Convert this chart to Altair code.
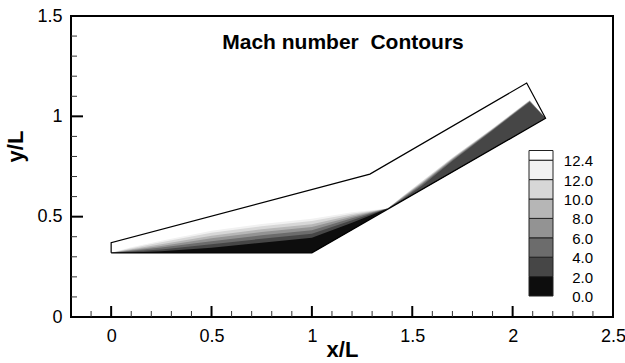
import altair as alt
import pandas as pd

FONT = "Liberation Sans"

# ---------------- data ----------------
title_text = "Mach number\u00a0 Contours"

# computational-domain outline (x/L, y/L)
outline_x = [0.0, 0.0, 1.289, 2.07, 2.164, 1.0, 0.0]
outline_y = [0.32, 0.37, 0.712, 1.166, 0.990, 0.32, 0.32]

# contour levels and flood greys (band k lies between levels[k] and levels[k+1])
levels = [0.0, 2.0, 4.0, 6.0, 8.0, 10.0, 12.0, 12.4]
level_labels = ["0.0", "2.0", "4.0", "6.0", "8.0", "10.0", "12.0", "12.4"]
band_grays = ["#0d0d0d", "#464646", "#6c6c6c", "#939393", "#b6b6b6", "#d7d7d7", "#f1f1f1", "#ffffff"]

# flat-plate part: stations and iso-Mach boundary curves
flat_x = [0.0, 0.1, 0.25, 0.5, 0.75, 1.0, 1.2, 1.378]
flat_wall = [0.32, 0.32, 0.32, 0.32, 0.32, 0.32, 0.435, 0.541]
flat_iso = {
    2.0:  [0.32, 0.322, 0.328, 0.345, 0.370, 0.395, 0.470, 0.541],
    4.0:  [0.32, 0.326, 0.337, 0.362, 0.390, 0.415, 0.482, 0.541],
    6.0:  [0.32, 0.330, 0.346, 0.378, 0.407, 0.432, 0.492, 0.541],
    8.0:  [0.32, 0.334, 0.354, 0.392, 0.423, 0.448, 0.500, 0.541],
    10.0: [0.32, 0.338, 0.362, 0.405, 0.437, 0.462, 0.507, 0.541],
    12.0: [0.32, 0.343, 0.372, 0.420, 0.452, 0.478, 0.515, 0.541],
    12.4: [0.32, 0.347, 0.380, 0.430, 0.463, 0.490, 0.522, 0.541],
}

# ramp part: stations and iso-Mach boundary curves
ramp_x = [1.378, 1.45, 1.55, 1.7, 1.9, 2.085, 2.164]
ramp_wall = [0.541, 0.579, 0.637, 0.723, 0.838, 0.945, 0.990]
ramp_iso = {
    2.0:  [0.541, 0.580, 0.638, 0.724, 0.839, 0.946, 0.990],
    4.0:  [0.541, 0.585, 0.655, 0.778, 0.930, 1.072, 0.990],
    6.0:  [0.541, 0.590, 0.663, 0.783, 0.933, 1.075, 0.990],
    8.0:  [0.541, 0.594, 0.668, 0.787, 0.935, 1.077, 0.990],
    10.0: [0.541, 0.597, 0.672, 0.790, 0.937, 1.078, 0.990],
    12.0: [0.541, 0.599, 0.676, 0.793, 0.939, 1.080, 0.990],
    12.4: [0.541, 0.600, 0.679, 0.795, 0.940, 1.081, 0.990],
}

x_major = [0, 0.5, 1, 1.5, 2, 2.5]
x_minor = [-0.1, 0.1, 0.2, 0.3, 0.4, 0.6, 0.7, 0.8, 0.9, 1.1, 1.2, 1.3, 1.4,
           1.6, 1.7, 1.8, 1.9, 2.1, 2.2, 2.3, 2.4]
y_major = [0, 0.5, 1, 1.5]
y_minor = [0.1, 0.2, 0.3, 0.4, 0.6, 0.7, 0.8, 0.9, 1.1, 1.2, 1.3, 1.4]

# ---------------- tables ----------------
rows = []
for region, xs, wall, iso in (("flat", flat_x, flat_wall, flat_iso),
                              ("ramp", ramp_x, ramp_wall, ramp_iso)):
    for k, lev in enumerate(levels[1:]):
        for xv, w, t in zip(xs, wall, iso[lev]):
            rows.append({"region": region, "band": k, "x": xv, "wall": w, "top": t})
bands = pd.DataFrame(rows)

outline = pd.DataFrame({"x": outline_x, "y": outline_y, "i": range(len(outline_x))})
xmaj = pd.DataFrame({"v": x_major[:-1]})
xmin = pd.DataFrame({"v": x_minor})
ymaj = pd.DataFrame({"v": y_major[1:-1]})
ymin = pd.DataFrame({"v": y_minor})

cb = pd.DataFrame({
    "lo": list(range(len(levels))),
    "hi": [i + 1 for i in range(len(levels) - 1)] + [len(levels) - 0.5],
    "gray": band_grays,
})
cb_lab = pd.DataFrame({"pos": list(range(len(levels))), "label": level_labels})
ttl = pd.DataFrame({"t": [title_text]})

# ---------------- scales / axes ----------------
XS = alt.Scale(domain=[-0.2, 2.5], nice=False, zero=False)
YS = alt.Scale(domain=[0, 1.5], nice=False, zero=False)
XA = alt.Axis(values=x_major, labelExpr="'' + datum.value", ticks=False, domain=False,
              grid=False, labelFont=FONT, labelFontSize=18, labelColor="black",
              labelPadding=10, labelFlush=False, title="x/L", titleFont=FONT,
              titleFontSize=22, titleFontWeight="bold", titleColor="black",
              titleY=32, titleBaseline="middle")
YA = alt.Axis(values=y_major, labelExpr="'' + datum.value", ticks=False, domain=False,
              grid=False, labelFont=FONT, labelFontSize=18, labelColor="black",
              labelPadding=9, labelFlush=False, title="y/L", titleFont=FONT,
              titleFontSize=22, titleFontWeight="bold", titleColor="black",
              titleX=-56, titleY=130, titleAlign="center", titleBaseline="middle")

def X(f):
    return alt.X(f, type="quantitative", scale=XS, axis=XA, title="x/L")

def Y(f):
    return alt.Y(f, type="quantitative", scale=YS, axis=YA, title="y/L")

layers = []
# lightest band first, darker ones painted over it (wall -> level curve)
for k in range(len(levels) - 2, -1, -1):
    layers.append(
        alt.Chart(bands).transform_filter(alt.datum.band == k)
        .mark_area(color=band_grays[k], interpolate="linear", strokeWidth=0)
        .encode(x=X("x"), y=Y("wall"), y2="top", detail="region:N")
    )

layers.append(
    alt.Chart(outline).mark_line(color="black", strokeWidth=1.2)
    .encode(x=X("x"), y=Y("y"), order="i:Q")
)
layers.append(alt.Chart(xmaj).mark_rule(color="black", strokeWidth=2)
              .encode(x=X("v"), y=alt.value(301), y2=alt.value(290)))
layers.append(alt.Chart(xmin).mark_rule(color="#333333", strokeWidth=1)
              .encode(x=X("v"), y=alt.value(301), y2=alt.value(295)))
layers.append(alt.Chart(ymaj).mark_rule(color="black", strokeWidth=2)
              .encode(y=Y("v"), x=alt.value(0), x2=alt.value(12)))
layers.append(alt.Chart(ymin).mark_rule(color="#333333", strokeWidth=1)
              .encode(y=Y("v"), x=alt.value(0), x2=alt.value(6)))

main = alt.layer(*layers)

CBS = alt.Scale(domain=[0, 8], range=[280, 124.8], nice=False, zero=False)
cbar = alt.Chart(cb).mark_rect(stroke="#222222", strokeWidth=1).encode(
    x=alt.value(458), x2=alt.value(482),
    y=alt.Y("lo:Q", scale=CBS, axis=None), y2="hi:Q",
    fill=alt.Fill("gray:N", scale=None),
)
cbtext = alt.Chart(cb_lab).mark_text(font=FONT, fontSize=15, align="right",
                                     baseline="middle", dy=1, color="black").encode(
    x=alt.value(522), y=alt.Y("pos:Q", scale=CBS, axis=None), text="label:N"
)
title = alt.Chart(ttl).mark_text(font=FONT, fontSize=21, fontWeight="bold",
                                 align="center", baseline="middle", color="black").encode(
    x=alt.value(272), y=alt.value(27), text="t:N"
)

chart = (
    alt.layer(main, alt.layer(cbar, cbtext), title)
    .resolve_scale(y="independent")
    .properties(width=542, height=301,
                padding={"left": 71, "top": 16, "right": 12, "bottom": 46},
                autosize=alt.AutoSizeParams(type="none"))
    .configure(background="white")
    .configure_view(stroke="black", strokeWidth=2)
)

chart.save("out.html", embed_options={"renderer": "svg", "actions": False})
